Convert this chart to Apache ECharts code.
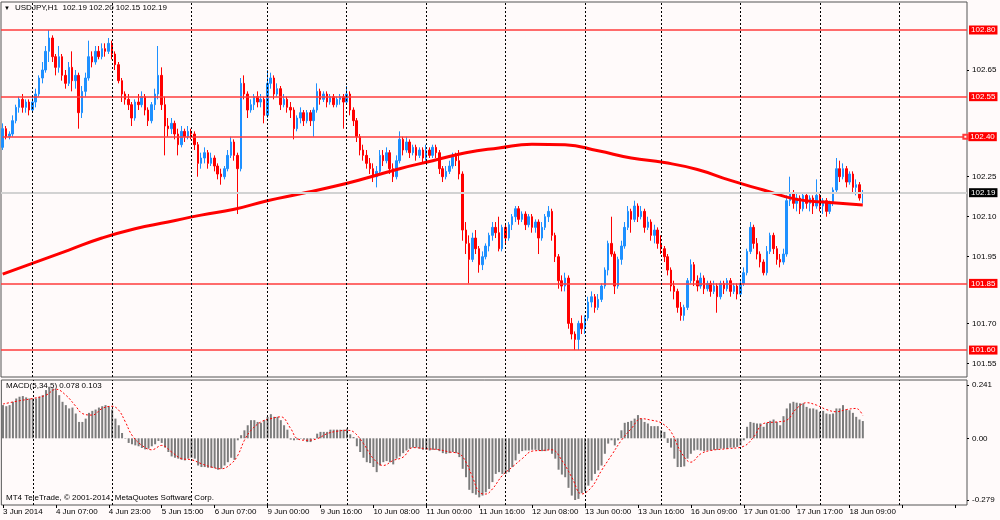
<!DOCTYPE html>
<html>
<head>
<meta charset="utf-8">
<title>USDJPY,H1</title>
<script src="https://cdn.jsdelivr.net/npm/echarts@6.0.0/dist/echarts.min.js"></script>
<style>
html, body { margin: 0; padding: 0; background: #fffafa; }
#chart { width: 1000px; height: 520px; }
</style>
</head>
<body>
<div id="chart"></div>
<script>
// USDJPY H1, 3 Jun 15:00 .. 18 Jun 13:00 (one value per hourly bar)
var opens = [
  102.36,102.43,102.40,102.41,102.46,102.51,102.54,102.51,102.53,102.50,
  102.53,102.56,102.62,102.65,102.72,102.77,102.70,102.66,102.70,102.63,
  102.60,102.66,102.61,102.63,102.49,102.57,102.62,102.70,102.68,102.72,
  102.70,102.73,102.72,102.75,102.71,102.67,102.61,102.56,102.54,102.52,
  102.47,102.53,102.52,102.55,102.50,102.46,102.52,102.56,102.63,102.52,
  102.44,102.43,102.45,102.41,102.37,102.42,102.40,102.42,102.41,102.37,
  102.30,102.32,102.34,102.30,102.32,102.29,102.26,102.25,102.28,102.33,
  102.38,102.33,102.28,102.60,102.56,102.50,102.52,102.55,102.53,102.54,
  102.48,102.60,102.62,102.56,102.58,102.52,102.54,102.51,102.50,102.43,
  102.47,102.49,102.46,102.49,102.46,102.50,102.57,102.54,102.56,102.53,
  102.55,102.52,102.54,102.55,102.53,102.56,102.50,102.46,102.40,102.35,
  102.33,102.30,102.28,102.25,102.27,102.33,102.31,102.34,102.28,102.25,
  102.31,102.39,102.35,102.38,102.34,102.36,102.33,102.35,102.32,102.35,
  102.33,102.36,102.34,102.28,102.25,102.27,102.29,102.33,102.31,102.26,
  102.05,102.00,101.94,102.02,101.98,101.92,101.95,101.99,102.03,102.06,
  102.04,101.98,102.06,102.02,102.07,102.10,102.13,102.09,102.11,102.07,
  102.10,102.06,102.08,102.02,102.06,102.10,102.12,102.03,101.95,101.86,
  101.84,101.87,101.70,101.66,101.64,101.70,101.68,101.72,101.78,101.80,
  101.76,101.79,101.84,101.90,102.00,101.96,101.84,101.94,101.99,102.06,
  102.12,102.09,102.14,102.10,102.12,102.06,102.08,102.03,102.05,102.00,
  101.98,101.95,101.90,101.84,101.82,101.76,101.73,101.76,101.86,101.92,
  101.86,101.84,101.87,101.83,101.85,101.82,101.84,101.80,101.85,101.83,
  101.86,101.82,101.84,101.81,101.85,101.89,101.97,102.06,102.00,101.96,
  101.93,101.89,101.97,102.03,101.98,101.94,101.93,101.96,102.16,102.19,
  102.15,102.17,102.13,102.18,102.15,102.17,102.14,102.18,102.14,102.16,
  102.12,102.15,102.20,102.28,102.25,102.28,102.23,102.26,102.21,102.22,
  102.19
];
var closes = [
  102.43,102.40,102.41,102.46,102.51,102.54,102.51,102.53,102.50,102.53,
  102.56,102.62,102.65,102.72,102.77,102.70,102.66,102.70,102.63,102.60,
  102.66,102.61,102.63,102.49,102.57,102.62,102.70,102.68,102.72,102.70,
  102.73,102.72,102.75,102.71,102.67,102.61,102.56,102.54,102.52,102.47,
  102.53,102.52,102.55,102.50,102.46,102.52,102.56,102.63,102.52,102.44,
  102.43,102.45,102.41,102.37,102.42,102.40,102.42,102.41,102.37,102.30,
  102.32,102.34,102.30,102.32,102.29,102.26,102.25,102.28,102.33,102.38,
  102.33,102.28,102.60,102.56,102.50,102.52,102.55,102.53,102.54,102.48,
  102.60,102.62,102.56,102.58,102.52,102.54,102.51,102.50,102.43,102.47,
  102.49,102.46,102.49,102.46,102.50,102.57,102.54,102.56,102.53,102.55,
  102.52,102.54,102.55,102.53,102.56,102.50,102.46,102.40,102.35,102.33,
  102.30,102.28,102.25,102.27,102.33,102.31,102.34,102.28,102.25,102.31,
  102.39,102.35,102.38,102.34,102.36,102.33,102.35,102.32,102.35,102.33,
  102.36,102.34,102.28,102.25,102.27,102.29,102.33,102.31,102.26,102.05,
  102.00,101.94,102.02,101.98,101.92,101.95,101.99,102.03,102.06,102.04,
  101.98,102.06,102.02,102.07,102.10,102.13,102.09,102.11,102.07,102.10,
  102.06,102.08,102.02,102.06,102.10,102.12,102.03,101.95,101.86,101.84,
  101.87,101.70,101.66,101.64,101.70,101.68,101.72,101.78,101.80,101.76,
  101.79,101.84,101.90,102.00,101.96,101.84,101.94,101.99,102.06,102.12,
  102.09,102.14,102.10,102.12,102.06,102.08,102.03,102.05,102.00,101.98,
  101.95,101.90,101.84,101.82,101.76,101.73,101.76,101.86,101.92,101.86,
  101.84,101.87,101.83,101.85,101.82,101.84,101.80,101.85,101.83,101.86,
  101.82,101.84,101.81,101.85,101.89,101.97,102.06,102.00,101.96,101.93,
  101.89,101.97,102.03,101.98,101.94,101.93,101.96,102.16,102.19,102.15,
  102.17,102.13,102.18,102.15,102.17,102.14,102.18,102.14,102.16,102.12,
  102.15,102.20,102.28,102.25,102.28,102.23,102.26,102.21,102.22,102.17,
  102.19
];
var lows = [
  102.35,102.39,102.39,102.40,102.45,102.49,102.49,102.49,102.48,102.49,
  102.51,102.55,102.60,102.64,102.68,102.68,102.63,102.64,102.61,102.58,
  102.59,102.57,102.58,102.43,102.47,102.55,102.61,102.66,102.67,102.69,
  102.69,102.70,102.71,102.69,102.65,102.60,102.53,102.52,102.50,102.44,
  102.46,102.50,102.51,102.48,102.44,102.45,102.50,102.54,102.50,102.33,
  102.40,102.41,102.39,102.33,102.36,102.38,102.39,102.39,102.35,102.25,
  102.28,102.30,102.28,102.29,102.27,102.24,102.22,102.24,102.27,102.32,
  102.31,102.11,102.27,102.54,102.47,102.49,102.50,102.51,102.51,102.45,
  102.47,102.58,102.54,102.55,102.50,102.51,102.49,102.47,102.39,102.42,
  102.45,102.44,102.45,102.44,102.40,102.49,102.52,102.53,102.51,102.52,
  102.51,102.51,102.52,102.43,102.52,102.48,102.44,102.38,102.33,102.31,
  102.28,102.26,102.23,102.21,102.26,102.29,102.30,102.26,102.23,102.24,
  102.30,102.33,102.34,102.32,102.33,102.31,102.32,102.30,102.31,102.32,
  102.32,102.32,102.26,102.23,102.24,102.26,102.28,102.29,102.24,102.01,
  101.96,101.85,101.93,101.96,101.89,101.90,101.94,101.97,102.01,102.02,
  101.97,101.97,102.00,102.01,102.05,102.08,102.07,102.08,102.05,102.06,
  102.04,102.04,101.96,102.01,102.05,102.08,102.01,101.93,101.83,101.82,
  101.82,101.68,101.64,101.60,101.60,101.66,101.66,101.71,101.76,101.74,
  101.75,101.78,101.83,101.88,101.95,101.81,101.83,101.92,101.98,102.05,
  102.04,102.08,102.08,102.09,102.04,102.05,102.01,102.00,101.98,101.96,
  101.93,101.88,101.82,101.79,101.74,101.71,101.71,101.75,101.85,101.84,
  101.82,101.83,101.81,101.82,101.80,101.81,101.74,101.79,101.81,101.82,
  101.80,101.81,101.79,101.80,101.84,101.88,101.96,101.98,101.94,101.91,
  101.88,101.88,101.96,101.96,101.92,101.91,101.92,101.95,102.14,102.13,
  102.12,102.11,102.12,102.13,102.12,102.11,102.13,102.12,102.11,102.10,
  102.11,102.14,102.19,102.23,102.24,102.21,102.22,102.19,102.18,102.16,
  102.15
];
var highs = [
  102.45,102.44,102.42,102.48,102.52,102.55,102.56,102.54,102.54,102.55,
  102.58,102.63,102.68,102.74,102.80,102.78,102.71,102.74,102.71,102.65,
  102.68,102.72,102.65,102.64,102.59,102.64,102.76,102.72,102.74,102.74,
  102.75,102.75,102.77,102.76,102.72,102.68,102.62,102.57,102.56,102.53,
  102.54,102.56,102.57,102.56,102.51,102.53,102.58,102.74,102.66,102.55,
  102.47,102.47,102.46,102.43,102.44,102.43,102.44,102.43,102.42,102.38,
  102.34,102.36,102.35,102.34,102.33,102.30,102.28,102.29,102.35,102.40,
  102.39,102.34,102.62,102.63,102.57,102.54,102.56,102.57,102.56,102.55,
  102.65,102.64,102.63,102.60,102.59,102.56,102.55,102.53,102.51,102.48,
  102.51,102.50,102.50,102.50,102.51,102.60,102.58,102.57,102.57,102.56,
  102.56,102.55,102.56,102.56,102.59,102.57,102.51,102.47,102.41,102.37,
  102.35,102.32,102.30,102.29,102.35,102.35,102.36,102.35,102.30,102.33,
  102.42,102.40,102.40,102.39,102.37,102.37,102.36,102.36,102.37,102.36,
  102.37,102.37,102.35,102.29,102.29,102.31,102.34,102.34,102.35,102.27,
  102.08,102.03,102.04,102.05,101.99,101.97,102.00,102.04,102.08,102.08,
  102.10,102.07,102.07,102.08,102.11,102.14,102.14,102.12,102.12,102.11,
  102.11,102.09,102.09,102.08,102.11,102.14,102.13,102.04,101.96,101.88,
  101.89,101.88,101.72,101.67,101.71,101.73,101.73,101.80,101.82,101.81,
  101.81,101.85,101.91,102.01,102.10,101.97,101.95,102.01,102.08,102.14,
  102.13,102.16,102.15,102.14,102.13,102.10,102.09,102.07,102.06,102.03,
  101.99,101.96,101.91,101.86,101.83,101.78,101.77,101.87,101.94,101.93,
  101.88,101.89,101.88,101.86,101.86,101.86,101.85,101.86,101.86,101.87,
  101.87,101.85,101.85,101.86,101.91,101.98,102.08,102.07,102.02,101.97,
  101.94,101.99,102.04,102.04,101.99,101.96,101.98,102.18,102.25,102.20,
  102.19,102.18,102.19,102.19,102.18,102.18,102.24,102.19,102.17,102.17,
  102.16,102.21,102.32,102.31,102.30,102.29,102.27,102.27,102.24,102.23,
  102.20
];

// moving average, read every 10 bars
var maIdx = [0,10,20,30,40,50,60,70,80,90,100,110,120,130,140,150,160,170,180,190,200,210,220,230,240,250,260];
var maVal = [101.885,101.930,101.975,102.020,102.055,102.080,102.106,102.128,102.160,102.186,
             102.213,102.245,102.280,102.310,102.340,102.358,102.372,102.370,102.347,102.320,
             102.303,102.277,102.236,102.200,102.165,102.153,102.144];

// MACD(5,34,5) main (histogram), one per bar
var macdHist = [
  0.150,0.145,0.150,0.165,0.180,0.188,0.191,0.185,0.180,0.180,
  0.180,0.188,0.195,0.218,0.233,0.226,0.218,0.195,0.165,0.150,
  0.135,0.139,0.112,0.074,0.074,0.089,0.115,0.124,0.130,0.139,
  0.145,0.150,0.145,0.130,0.089,0.059,0.024,-0.002,-0.021,-0.027,
  -0.032,-0.036,-0.044,-0.050,-0.047,-0.036,-0.027,-0.012,-0.021,-0.042,
  -0.062,-0.082,-0.088,-0.092,-0.097,-0.100,-0.092,-0.088,-0.092,-0.123,
  -0.130,-0.130,-0.133,-0.133,-0.135,-0.142,-0.138,-0.123,-0.108,-0.088,
  -0.097,-0.009,0.014,0.036,0.059,0.082,0.082,0.074,0.070,0.082,
  0.097,0.109,0.097,0.097,0.082,0.059,0.039,-0.006,-0.009,-0.006,
  -0.002,-0.006,-0.017,-0.017,-0.002,0.021,0.029,0.029,0.029,0.039,
  0.039,0.039,0.039,0.039,0.044,0.018,0.006,-0.036,-0.062,-0.088,
  -0.108,-0.112,-0.130,-0.153,-0.123,-0.108,-0.103,-0.108,-0.118,-0.092,
  -0.082,-0.067,-0.055,-0.047,-0.042,-0.042,-0.047,-0.052,-0.052,-0.055,
  -0.052,-0.052,-0.058,-0.067,-0.070,-0.067,-0.062,-0.067,-0.085,-0.138,
  -0.176,-0.233,-0.248,-0.255,-0.267,-0.259,-0.244,-0.229,-0.198,-0.161,
  -0.153,-0.161,-0.161,-0.153,-0.130,-0.100,-0.070,-0.058,-0.055,-0.055,
  -0.052,-0.052,-0.055,-0.058,-0.058,-0.052,-0.070,-0.092,-0.142,-0.164,
  -0.176,-0.224,-0.259,-0.279,-0.274,-0.248,-0.239,-0.214,-0.191,-0.161,
  -0.145,-0.123,-0.070,-0.024,-0.009,-0.032,-0.009,0.036,0.070,0.074,
  0.079,0.089,0.105,0.089,0.074,0.067,0.055,0.055,0.055,0.036,
  0.029,-0.021,-0.042,-0.092,-0.130,-0.130,-0.127,-0.092,-0.070,-0.055,
  -0.052,-0.055,-0.058,-0.055,-0.055,-0.052,-0.052,-0.047,-0.047,-0.047,
  -0.042,-0.042,-0.039,-0.032,-0.009,0.052,0.074,0.070,0.067,0.067,
  0.052,0.070,0.079,0.085,0.074,0.059,0.100,0.135,0.158,0.165,
  0.161,0.158,0.158,0.142,0.135,0.135,0.130,0.120,0.124,0.112,
  0.109,0.112,0.135,0.135,0.150,0.130,0.127,0.115,0.097,0.085,
  0.078
];

// MACD signal line, read at sampled bars
var sigIdx = [0,5,9,13,16,19,22,24,27,30,33,35,37,39,42,45,48,51,54,57,60,63,66,69,71,73,75,78,81,84,
              87,89,92,95,98,101,104,106,109,112,115,118,121,124,128,132,135,138,140,142,144,146,148,151,154,157,160,163,166,169,
              172,175,178,181,184,187,190,193,196,199,202,205,208,211,214,219,224,227,230,234,237,240,243,246,249,252,255,258,260];
var sigVal = [0.155,0.170,0.180,0.195,0.222,0.195,0.145,0.112,0.105,0.135,0.145,0.127,0.074,0.014,-0.032,-0.052,-0.032,-0.062,-0.092,-0.097,
              -0.115,-0.130,-0.138,-0.115,-0.077,-0.009,0.036,0.074,0.089,0.097,
              0.044,-0.002,-0.009,-0.002,0.021,0.032,0.036,0.029,-0.024,-0.092,-0.123,-0.100,-0.085,-0.042,-0.047,-0.052,-0.062,-0.070,-0.108,-0.176,
              -0.244,-0.252,-0.229,-0.168,-0.130,-0.092,-0.058,-0.055,-0.052,-0.100,
              -0.176,-0.252,-0.221,-0.145,-0.077,-0.009,0.044,0.089,0.082,0.070,0.029,-0.062,-0.108,-0.070,-0.055,-0.047,-0.036,0.006,0.067,0.074,
              0.082,0.135,0.161,0.150,0.130,0.120,0.130,0.135,0.103];

var hLevels = [102.80, 102.55, 101.85, 101.60];
var markedLevel = 102.40;
var bidPrice = 102.19;
var priceTicks = [102.65, 102.25, 102.10, 101.95, 101.70, 101.55];
var macdTicks = [0.241, 0, -0.279];
var dayStarts = [9, 33, 57, 80, 104, 128, 152, 176, 199, 223, 247, 271];
var tickLabels = ['3 Jun 2014', '4 Jun 07:00', '4 Jun 23:00', '5 Jun 15:00', '6 Jun 07:00',
  '9 Jun 00:00', '9 Jun 16:00', '10 Jun 08:00', '11 Jun 00:00', '11 Jun 16:00', '12 Jun 08:00',
  '13 Jun 00:00', '13 Jun 16:00', '16 Jun 09:00', '17 Jun 01:00', '17 Jun 17:00', '18 Jun 09:00'];
var slots = 292;

var FONT = '"Liberation Sans", Arial, sans-serif';

var cats = [];
for (var i = 0; i < slots; i++) cats.push(String(i));

var candles = opens.map(function (o, i) { return [o, closes[i], lows[i], highs[i]]; });
var maData = maIdx.map(function (x, i) { return [x, maVal[i]]; });
var sigData = sigIdx.map(function (x, i) { return [x, sigVal[i]]; });

var redLine = { color: '#ff3b3b', width: 1.5, type: 'solid' };
var levelLines = hLevels.map(function (v) {
  return { yAxis: v, lineStyle: redLine, label: { backgroundColor: '#ff0000' } };
});
// the selected level carries a small hollow square at its right end
levelLines.push([
  { coord: [0, markedLevel], symbol: 'none', lineStyle: redLine,
    label: { backgroundColor: '#ff0000', distance: 3, formatter: markedLevel.toFixed(2) } },
  { coord: [slots - 1, markedLevel], symbol: 'emptyRect', symbolSize: 4 }
]);
levelLines.push({ yAxis: bidPrice, lineStyle: { color: '#d2d2d2', width: 2, type: 'solid' },
                  label: { backgroundColor: '#000000' } });

function dayMarks() {
  return {
    silent: true, symbol: ['none', 'none'], animation: false,
    label: { show: false },
    lineStyle: { color: '#000', width: 1, type: [2, 2] },
    data: dayStarts.map(function (d) { return { xAxis: d }; })
  };
}

var chart = echarts.init(document.getElementById('chart'));
chart.setOption({
  animation: false,
  backgroundColor: '#fffafa',
  textStyle: { fontFamily: FONT },
  grid: [
    { left: 1, right: 33, top: 2, height: 375, show: true, borderColor: '#555', borderWidth: 1 },
    { left: 1, right: 33, top: 380, height: 125, show: true, borderColor: '#555', borderWidth: 1 }
  ],
  xAxis: [
    { type: 'category', gridIndex: 0, data: cats, boundaryGap: true,
      axisLine: { show: false, onZero: false }, axisTick: { show: false }, axisLabel: { show: false } },
    { type: 'category', gridIndex: 1, data: cats, boundaryGap: true, position: 'bottom',
      axisLine: { show: false, onZero: false },
      axisTick: { show: true, alignWithLabel: true, length: 3, lineStyle: { color: '#000' },
        interval: function (i) { return i % 16 === 0; } },
      axisLabel: { show: true, align: 'left', fontSize: 8, color: '#000', margin: 3, fontFamily: FONT,
        interval: function (i) { return i % 16 === 0; },
        formatter: function (v, i) { return tickLabels[i / 16] || ''; } } }
  ],
  yAxis: [
    { type: 'value', gridIndex: 0, position: 'right', min: 101.499, max: 102.905, scale: true,
      splitLine: { show: false }, axisLine: { show: false },
      axisTick: { show: true, customValues: priceTicks, length: 2, lineStyle: { color: '#000' } },
      axisLabel: { customValues: priceTicks, fontSize: 8, color: '#000', margin: 5, fontFamily: FONT,
        formatter: function (v) { return v.toFixed(2); } } },
    { type: 'value', gridIndex: 1, position: 'right', min: -0.3016, max: 0.2636,
      splitLine: { show: false }, axisLine: { show: false },
      axisTick: { show: true, customValues: macdTicks, length: 2, lineStyle: { color: '#000' } },
      axisLabel: { customValues: macdTicks, fontSize: 8, color: '#000', margin: 5, fontFamily: FONT,
        formatter: function (v) { return v === 0 ? '0.00' : String(v); } } }
  ],
  graphic: [
    { type: 'text', left: 4, top: 5, style: { text: '\u25BC', fontSize: 6, fill: '#000', fontFamily: FONT } },
    { type: 'text', left: 15, top: 4, style: { text: 'USDJPY,H1  102.19 102.20 102.15 102.19', fontSize: 8, fill: '#000', fontFamily: FONT } },
    { type: 'text', left: 6, top: 382, style: { text: 'MACD(5,34,5) 0.078 0.103', fontSize: 8, fill: '#000', fontFamily: FONT } },
    { type: 'text', left: 6, top: 494, style: { text: 'MT4 TeleTrade, \u00A9 2001-2014, MetaQuotes Software Corp.', fontSize: 8, fill: '#000', fontFamily: FONT } }
  ],
  series: [
    { name: 'USDJPY', type: 'candlestick', xAxisIndex: 0, yAxisIndex: 0, data: candles,
      barWidth: 2, z: 3,
      itemStyle: { color: '#1e90ff', color0: '#ff0000', borderColor: '#1e90ff', borderColor0: '#ff0000', borderWidth: 1 },
      markLine: {
        silent: true, symbol: ['none', 'none'], animation: false,
        itemStyle: { color: '#ff3b3b' },
        label: { show: true, position: 'end', distance: 2, color: '#fff', fontSize: 8, fontFamily: FONT,
          lineHeight: 9, padding: [0, 2, 0, 2],
          formatter: function (p) { return p.value != null ? Number(p.value).toFixed(2) : ''; } },
        data: levelLines
      } },
    { name: 'MA', type: 'line', xAxisIndex: 0, yAxisIndex: 0, data: maData, smooth: true,
      showSymbol: false, z: 4, lineStyle: { color: '#ff0000', width: 3 },
      markLine: dayMarks() },
    { name: 'MACD', type: 'bar', xAxisIndex: 1, yAxisIndex: 1, data: macdHist, barWidth: 2,
      itemStyle: { color: '#7c7c7c' } },
    { name: 'Signal', type: 'line', xAxisIndex: 1, yAxisIndex: 1, data: sigData, smooth: 0.4,
      showSymbol: false, z: 4, lineStyle: { color: '#ff0000', width: 1, type: [2, 2] },
      markLine: dayMarks() }
  ]
});
</script>
</body>
</html>
